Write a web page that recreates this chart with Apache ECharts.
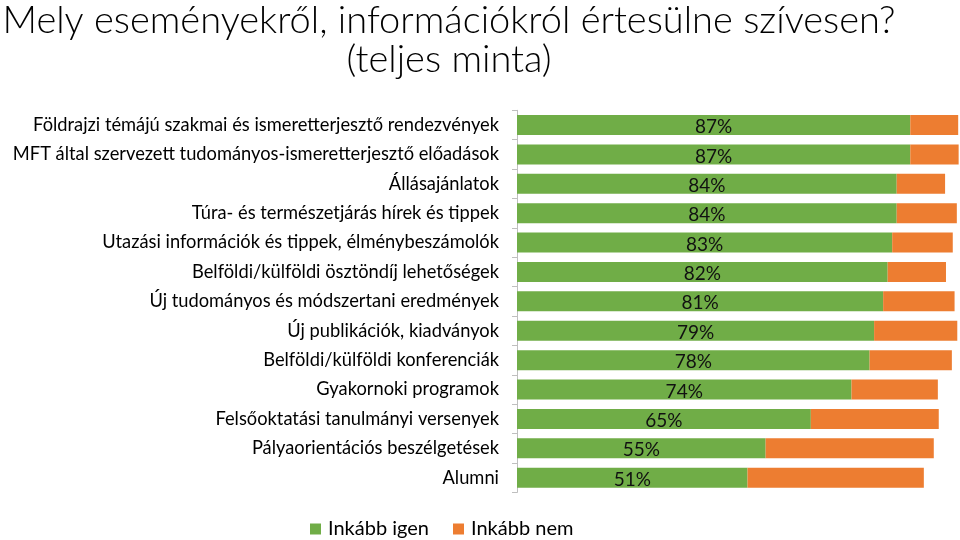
<!DOCTYPE html>
<html><head><meta charset="utf-8">
<script src="https://cdn.jsdelivr.net/npm/echarts@6/dist/echarts.min.js"></script>
<style>html,body{margin:0;padding:0;background:#fff}#c{width:960px;height:540px}</style>
</head><body><div id="c"></div>
<script>
const categories = [
  "Földrajzi témájú szakmai és ismeretterjesztő rendezvények",
  "MFT által szervezett tudományos-ismeretterjesztő előadások",
  "Állásajánlatok",
  "Túra- és természetjárás hírek és tippek",
  "Utazási információk és tippek, élménybeszámolók",
  "Belföldi/külföldi ösztöndíj lehetőségek",
  "Új tudományos és módszertani eredmények",
  "Új publikációk, kiadványok",
  "Belföldi/külföldi konferenciák",
  "Gyakornoki programok",
  "Felsőoktatási tanulmányi versenyek",
  "Pályaorientációs beszélgetések",
  "Alumni"
];
const inkabbIgen = [87, 87, 84, 84, 83, 82, 81, 79, 78, 74, 65, 55, 51];
const inkabbNem = [10.6, 10.7, 10.7, 13.3, 13.4, 12.9, 15.8, 18.4, 18.2, 19.1, 28.3, 37.2, 39.0];
const seriesNames = ["Inkább igen", "Inkább nem"];

const chart = echarts.init(document.getElementById('c'));
const font = 'Lato';
chart.setOption({
  animation: false,
  title: {
    text: 'Mely eseményekről, információkról értesülne szívesen?\n(teljes minta)',
    left: 444, top: -4, textAlign: 'center',
    textStyle: {fontFamily: font, fontWeight: 300, fontSize: 38, color: '#000', lineHeight: 39}
  },
  legend: {
    top: 514, left: 305,
    itemWidth: 11, itemHeight: 11, itemGap: 24,
    icon: 'rect',
    textStyle: {fontFamily: font, fontSize: 20, color: '#000', padding: [0, 0, 0, 2]},
    data: seriesNames
  },
  grid: {left: 517, right: 0, top: 110.3, bottom: 47.6, containLabel: false},
  xAxis: {type: 'value', min: 0, max: 98, show: false},
  yAxis: {
    type: 'category', inverse: true, data: categories,
    axisLine: {show: true, lineStyle: {color: '#bfbfbf'}},
    axisTick: {show: true, length: 5, lineStyle: {color: '#bfbfbf'}},
    axisLabel: {fontFamily: font, fontSize: 18.3, color: '#000', margin: 18}
  },
  series: [
    {name: seriesNames[0], type: 'bar', stack: 's', data: inkabbIgen, barWidth: 20,
     itemStyle: {color: '#70ad47'},
     label: {show: true, position: 'inside', formatter: p => p.value + '%', fontFamily: font, fontSize: 19, color: '#111', offset: [0, 2]}},
    {name: seriesNames[1], type: 'bar', stack: 's', data: inkabbNem, barWidth: 20,
     itemStyle: {color: '#ed7d31'}}
  ]
});
</script></body></html>
